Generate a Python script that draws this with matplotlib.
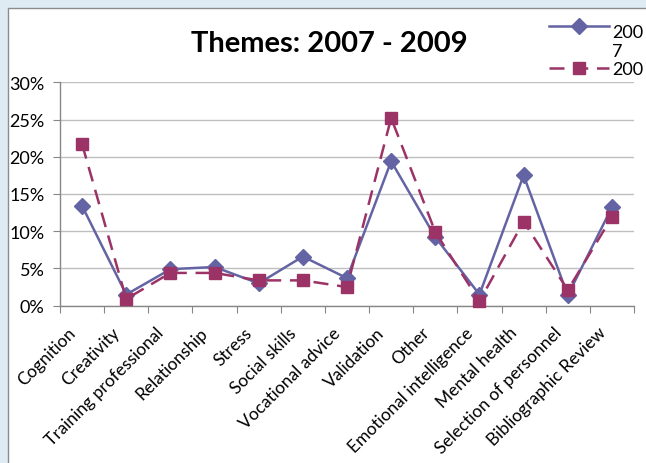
import matplotlib
matplotlib.use("Agg")
import matplotlib.pyplot as plt
from matplotlib.ticker import FuncFormatter, MultipleLocator
from matplotlib.patches import Rectangle
from matplotlib.lines import Line2D
from matplotlib.transforms import ScaledTranslation
import numpy as np

categories = ["Cognition", "Creativity", "Training professional", "Relationship",
              "Stress", "Social skills", "Vocational advice", "Validation", "Other",
              "Emotional intelligence", "Mental health", "Selection of personnel",
              "Bibliographic Review"]
series_2007 = [13.4, 1.5, 4.9, 5.2, 3.0, 6.6, 3.7, 19.4, 9.2, 1.5, 17.5, 1.4, 13.2]
series_2009 = [21.7, 0.9, 4.4, 4.4, 3.4, 3.4, 2.5, 25.2, 9.9, 0.6, 11.3, 2.1, 11.9]
labels = ["200\n7", "200"]
title = "Themes: 2007 - 2009"

plt.rcParams["font.family"] = ["Lato", "DejaVu Sans"]

W, H = 646, 464
fig = plt.figure(figsize=(W / 100, H / 100), dpi=100)
fig.patch.set_facecolor("#DFEBF3")

# white chart area with grey frame
fig.patches.append(Rectangle((8 / W, -0.01), 1, 1.01 - 9 / H, transform=fig.transFigure,
                             facecolor="white", edgecolor="#8C8C8C", linewidth=1.0,
                             zorder=-10))

ax = fig.add_axes([60 / W, 1 - 306.7 / H, 574 / W, (306.7 - 83.3) / H])
ax.set_facecolor("none")

x = np.arange(len(categories))
c07 = "#6464A4"
c09 = "#9C3366"
style07 = dict(color=c07, linewidth=1.8, linestyle="-", marker="D", markersize=8)
style09 = dict(color=c09, linewidth=1.8, linestyle=(0, (6, 3.5)), marker="s",
               markersize=9)
ax.plot(x, series_2007, zorder=3, clip_on=False, markerfacecolor=c07,
        markeredgecolor=c07, **style07)
ax.plot(x, series_2009, zorder=3, clip_on=False, markerfacecolor=c09,
        markeredgecolor=c09, **style09)

ax.set_xlim(-0.5, len(categories) - 0.5)
ax.set_ylim(0, 30)
ax.yaxis.set_major_locator(MultipleLocator(5))
ax.yaxis.set_major_formatter(FuncFormatter(lambda v, p: f"{v:.0f}%"))
ax.grid(axis="y", color="#BFBFBF", linewidth=1.0)
ax.set_axisbelow(True)

for s in ["top", "right"]:
    ax.spines[s].set_visible(False)
for s in ["left", "bottom"]:
    ax.spines[s].set_color("#878787")
    ax.spines[s].set_linewidth(1.0)

ax.set_xticks(np.arange(len(categories) + 1) - 0.5, minor=False)
ax.set_xticklabels([])
ax.set_xticks(x, minor=True)
ax.set_xticklabels(categories, minor=True, rotation=45, ha="right", va="center",
                   rotation_mode="anchor", fontsize=12.5)
ax.tick_params(axis="x", which="major", length=5, color="#878787", direction="out")
ax.tick_params(axis="x", which="minor", length=0, pad=0)
ax.tick_params(axis="y", length=5, color="#878787", labelsize=13, pad=6)

shift = ScaledTranslation(-9 / 100, -24 / 100, fig.dpi_scale_trans)
for lbl in ax.get_xticklabels(minor=True):
    lbl.set_transform(lbl.get_transform() + shift)

fig.text(329 / W, 1 - 44 / H, title, ha="center", va="center",
         fontsize=21, fontweight="bold")


# legend keys in pixel positions of the figure
def fx(px):
    return px / W


def fy(py):
    return 1 - py / H


legend_rows = [(27, 57, style07, labels[0]), (69, 75, style09, labels[1])]
for key_y, base_y, style, lab in legend_rows:
    fig.add_artist(Line2D([fx(549), fx(609)], [fy(key_y), fy(key_y)],
                          transform=fig.transFigure, color=style["color"],
                          linewidth=style["linewidth"], linestyle=style["linestyle"]))
    fig.add_artist(Line2D([fx(579)], [fy(key_y)], transform=fig.transFigure,
                          linestyle="none", marker=style["marker"],
                          markersize=style["markersize"],
                          markerfacecolor=style["color"],
                          markeredgecolor=style["color"]))
    fig.text(fx(612), fy(base_y), lab, ha="left", va="baseline",
             fontsize=13, linespacing=1.2, transform=fig.transFigure)

fig.savefig("out.png", dpi=100, facecolor=fig.get_facecolor())
